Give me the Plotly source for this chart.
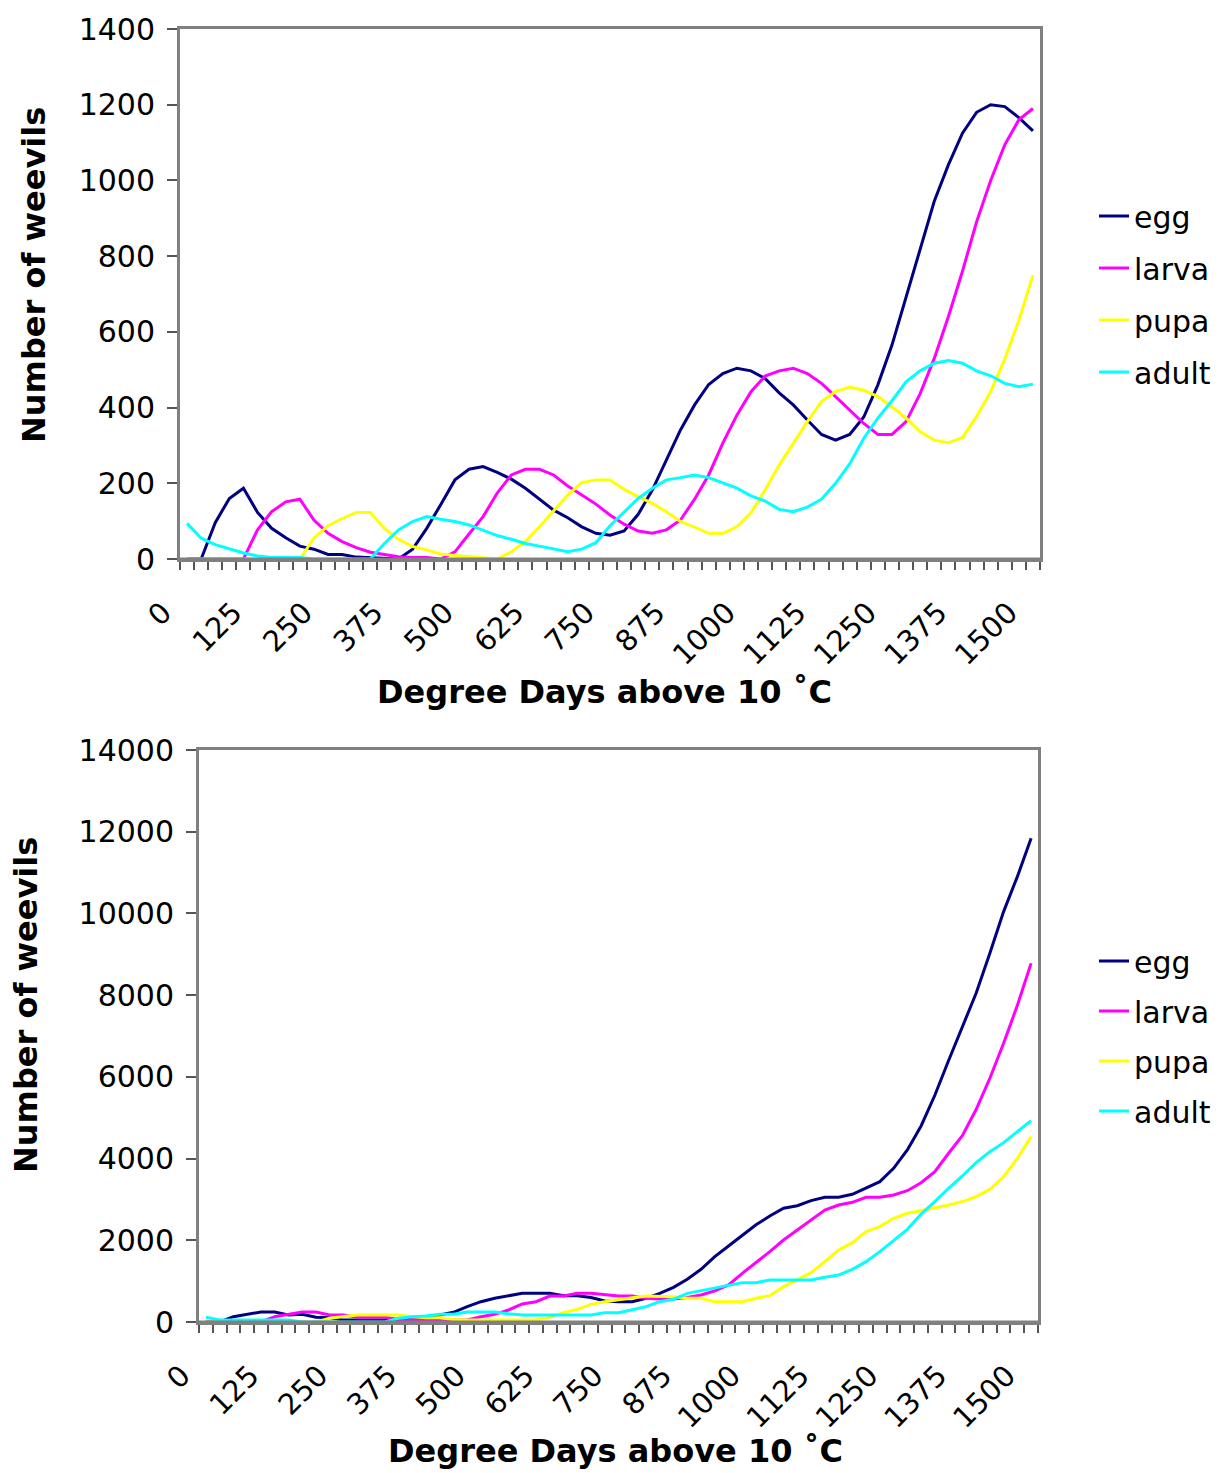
import plotly.graph_objects as go

degree_days = list(range(0, 1501, 25))
tick_labels = [str(v) for v in range(0, 1501, 125)]
series_names = ["egg", "larva", "pupa", "adult"]

# Top chart
egg_top = [0, 0, 96, 160, 187, 123, 81, 56, 34, 26, 12, 12, 5, 3, 0, 0, 26, 81, 144, 209,
           237, 244, 229, 211, 187, 159, 129, 109, 85, 68, 63, 74, 118, 182, 262, 341, 407, 461, 490, 504,
           497, 477, 439, 407, 367, 329, 314, 329, 375, 460, 565, 690, 820, 945, 1041, 1125, 1180, 1200, 1195, 1166,
           1131]
larva_top = [0, 0, 0, 0, 0, 77, 125, 151, 158, 103, 68, 46, 30, 18, 11, 6, 4, 4, 0, 19,
             66, 112, 174, 222, 237, 237, 222, 193, 169, 145, 116, 92, 74, 68, 77, 103, 158, 222, 306, 380,
             442, 483, 497, 504, 490, 464, 429, 394, 358, 329, 329, 363, 437, 530, 640, 760, 890, 1000, 1094, 1160,
             1190]
pupa_top = [0, 0, 0, 0, 0, 0, 0, 0, 0, 55, 88, 107, 123, 123, 81, 52, 33, 24, 13, 9,
            6, 4, 0, 19, 46, 85, 127, 169, 202, 209, 209, 184, 165, 147, 125, 99, 84, 68, 68, 85,
            122, 182, 248, 306, 363, 416, 442, 454, 446, 429, 402, 372, 336, 314, 307, 321, 376, 442, 528, 630,
            750]
adult_top = [94, 55, 38, 26, 16, 8, 4, 4, 4, 0, 0, 0, 0, 0, 41, 77, 99, 112, 105, 99,
             90, 75, 62, 52, 41, 34, 26, 19, 26, 43, 88, 125, 160, 187, 209, 215, 222, 215, 200, 187,
             167, 153, 131, 125, 137, 158, 200, 251, 319, 372, 418, 468, 497, 517, 524, 517, 497, 484, 464, 455,
             462]

# Bottom chart
egg_bot = [0, 0, 130, 190, 245, 245, 171, 188, 114, 106, 49, 49, 49, 49, 49, 80, 114, 171, 237, 375,
           497, 580, 645, 702, 702, 702, 645, 645, 600, 514, 497, 497, 580, 702, 849, 1045, 1290, 1599, 1860, 2122,
           2380, 2595, 2783, 2847, 2970, 3053, 3053, 3126, 3273, 3435, 3762, 4211, 4798, 5550, 6400, 7200, 8046, 9026, 10044, 10901,
           11841]
larva_bot = [0, 0, 0, 0, 0, 130, 188, 245, 245, 171, 171, 114, 114, 114, 60, 49, 49, 49, 49, 49,
             130, 188, 294, 441, 497, 636, 636, 702, 702, 660, 636, 636, 580, 563, 563, 600, 660, 760, 906, 1192,
             1452, 1721, 2007, 2252, 2500, 2742, 2864, 2930, 3053, 3053, 3109, 3214, 3410, 3679, 4130, 4560, 5200, 5966, 6822, 7750,
             8781]
pupa_bot = [0, 0, 0, 0, 0, 0, 0, 0, 0, 90, 130, 171, 171, 171, 171, 130, 106, 106, 60, 49,
            49, 49, 49, 49, 49, 114, 229, 310, 432, 497, 555, 595, 636, 636, 620, 580, 580, 497, 497, 497,
            580, 645, 865, 1028, 1208, 1477, 1763, 1942, 2211, 2334, 2538, 2661, 2726, 2807, 2864, 2945, 3068, 3248, 3557, 4007,
            4536]
adult_bot = [114, 49, 49, 49, 49, 49, 49, 0, 0, 0, 0, 0, 0, 0, 90, 130, 147, 188, 188, 245,
             245, 245, 200, 171, 171, 171, 171, 171, 171, 229, 229, 300, 375, 497, 555, 702, 767, 824, 906, 963,
             963, 1028, 1028, 1028, 1028, 1093, 1150, 1290, 1477, 1721, 1990, 2269, 2644, 2945, 3273, 3574, 3900, 4169, 4390, 4659,
             4928]

colors = ["#000080", "#FF00FF", "#FFFF00", "#00FFFF"]
FONT = "DejaVu Sans"
W, H = 1222, 1473
AXIS_GREY = "#808080"

fig = go.Figure()
top = [egg_top, larva_top, pupa_top, adult_top]
bot = [egg_bot, larva_bot, pupa_bot, adult_bot]
for name, ys, c in zip(series_names, top, colors):
    fig.add_trace(go.Scatter(x=degree_days, y=ys, name=name, mode="lines",
                             line=dict(color=c, width=3), xaxis="x", yaxis="y",
                             legend="legend", legendgroup="t" + name))
for name, ys, c in zip(series_names, bot, colors):
    fig.add_trace(go.Scatter(x=degree_days, y=ys, name=name, mode="lines",
                             line=dict(color=c, width=3), xaxis="x2", yaxis="y2",
                             legend="legend2", legendgroup="b" + name))

def px_x(p):
    return p / W

def px_y(p):
    return (H - p) / H

xcommon = dict(range=[-12.5, 1512.5], tickmode="array",
               tickvals=list(range(0, 1501, 125)),
               ticktext=tick_labels, tickangle=-45, ticks="", showgrid=False, zeroline=False,
               showline=True, linecolor=AXIS_GREY, linewidth=3, mirror=True,
               automargin=False, ticklabelstandoff=22, ticklabelshift=-24,
               tickfont=dict(family=FONT, size=29, color="black"),
               minor=dict(ticks="outside", tick0=-12.5, dtick=25, ticklen=8,
                          tickcolor="#555555", tickwidth=1.5))
ycommon = dict(showgrid=False, zeroline=False, showline=True, linecolor=AXIS_GREY,
               linewidth=3, mirror=True, ticks="outside", ticklen=10, tickcolor="#555555",
               tickwidth=1.5, tickformat="d", automargin=False, ticklabelstandoff=6,
               tickfont=dict(family=FONT, size=30, color="black"))

legend_font = dict(family=FONT, size=30, color="black")
fig.update_layout(
    width=W, height=H,
    margin=dict(l=0, r=0, t=0, b=0, autoexpand=False),
    paper_bgcolor="white", plot_bgcolor="white",
    xaxis=dict(domain=[px_x(180), px_x(1040)], anchor="y", **xcommon),
    yaxis=dict(domain=[px_y(559), px_y(29)], anchor="x", range=[0, 1400], dtick=200, **ycommon),
    xaxis2=dict(domain=[px_x(199), px_x(1038)], anchor="y2", **xcommon),
    yaxis2=dict(domain=[px_y(1322), px_y(750)], anchor="x2", range=[0, 14000], dtick=2000, **ycommon),
    legend=dict(x=px_x(1094), y=px_y(190), xanchor="left", yanchor="top",
                font=legend_font, tracegroupgap=10, bgcolor="rgba(0,0,0,0)"),
    legend2=dict(x=px_x(1094), y=px_y(935), xanchor="left", yanchor="top",
                 font=legend_font, tracegroupgap=8, bgcolor="rgba(0,0,0,0)"),
    showlegend=True,
)

# the value axis line sits over the plot's bottom edge, hiding series at zero (as in the original)
for xr, yr in (("x", "y"), ("x2", "y2")):
    fig.add_shape(type="line", xref=xr + " domain", yref=yr, x0=0, x1=1, y0=0, y1=0,
                  line=dict(color=AXIS_GREY, width=3), layer="above")

title_font = dict(family=FONT, size=32, color="black", weight="bold")
ann = [
    dict(text="Number of weevils", x=px_x(34), y=px_y(275), textangle=-90),
    dict(text="Degree Days above 10 ˚C", x=px_x(604), y=px_y(692), textangle=0),
    dict(text="Number of weevils", x=px_x(26), y=px_y(1005), textangle=-90),
    dict(text="Degree Days above 10 ˚C", x=px_x(615), y=px_y(1451), textangle=0),
]
for a in ann:
    fig.add_annotation(xref="paper", yref="paper", xanchor="center", yanchor="middle",
                       showarrow=False, font=title_font, **a)

fig.write_html("out.html")
